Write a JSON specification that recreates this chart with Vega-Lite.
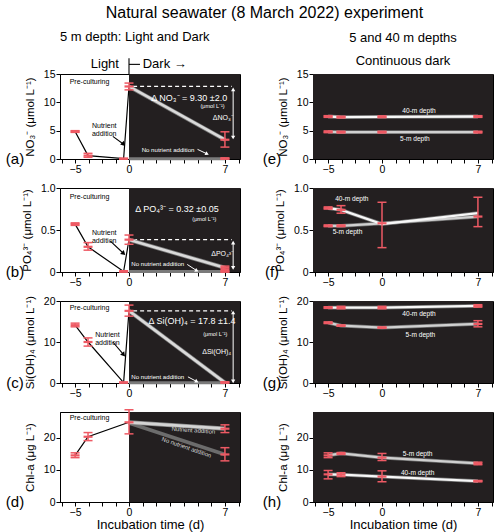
{
"$schema":"https://vega.github.io/schema/vega-lite/v6.json",
"title":{"text":"Natural seawater (8 March 2022) experiment","fontSize":16,"anchor":"middle","offset":9,"dx":15},
"datasets":{
"bg":[
{"p":"a","t":0,"t2":8.1,"v":0,"v2":15},
{"p":"b","t":0,"t2":8.1,"v":0,"v2":1},
{"p":"c","t":0,"t2":8.1,"v":0,"v2":20},
{"p":"d","t":0,"t2":8.1,"v":0,"v2":28},
{"p":"e","t":-6.4,"t2":8.1,"v":0,"v2":15},
{"p":"f","t":-6.4,"t2":8.1,"v":0,"v2":1},
{"p":"g","t":-6.4,"t2":8.1,"v":0,"v2":20},
{"p":"h","t":-6.4,"t2":8.1,"v":0,"v2":28}
],
"pts":[
{"p":"a","s":"pre","t":-5,"v":4.85,"lo":4.7,"hi":5.0},
{"p":"a","s":"pre","t":-3.8,"v":0.6,"lo":0.3,"hi":1.0},
{"p":"a","s":"pre","t":-0.5,"v":0.05,"lo":0,"hi":0.12},
{"p":"a","s":"pre","t":0,"v":12.8},
{"p":"a","s":"nut","t":0,"v":12.8,"lo":12.2,"hi":13.4},
{"p":"a","s":"nut","t":7,"v":3.4,"lo":2.1,"hi":4.8},
{"p":"a","s":"non","t":0,"v":0.05},
{"p":"a","s":"non","t":7,"v":0.05,"lo":0,"hi":0.2},
{"p":"b","s":"pre","t":-5,"v":0.57,"lo":0.555,"hi":0.585},
{"p":"b","s":"pre","t":-3.8,"v":0.3,"lo":0.26,"hi":0.35},
{"p":"b","s":"pre","t":-0.5,"v":0.005,"lo":0,"hi":0.015},
{"p":"b","s":"pre","t":0,"v":0.385},
{"p":"b","s":"nut","t":0,"v":0.385,"lo":0.33,"hi":0.44},
{"p":"b","s":"nut","t":7,"v":0.05,"lo":0.03,"hi":0.07},
{"p":"b","s":"non","t":0,"v":0.005},
{"p":"b","s":"non","t":7,"v":0.005,"lo":0,"hi":0.015},
{"p":"c","s":"pre","t":-5,"v":14.1,"lo":13.7,"hi":14.6},
{"p":"c","s":"pre","t":-3.8,"v":10.0,"lo":9.0,"hi":11.0},
{"p":"c","s":"pre","t":-0.5,"v":0.1,"lo":0,"hi":0.25},
{"p":"c","s":"pre","t":0,"v":17.6},
{"p":"c","s":"nut","t":0,"v":17.6,"lo":16.3,"hi":19.0},
{"p":"c","s":"nut","t":7,"v":0.1,"lo":0,"hi":0.3},
{"p":"c","s":"non","t":0,"v":0.05},
{"p":"c","s":"non","t":7,"v":0.05},
{"p":"d","s":"pre","t":-5,"v":14.5,"lo":13.8,"hi":15.3},
{"p":"d","s":"pre","t":-3.8,"v":20.3,"lo":19.1,"hi":21.6},
{"p":"d","s":"pre","t":0,"v":24.8},
{"p":"d","s":"nut","t":0,"v":24.8,"lo":21.2,"hi":28.7},
{"p":"d","s":"nut","t":7,"v":22.8,"lo":21.6,"hi":24.0},
{"p":"d","s":"non","t":0,"v":24.6},
{"p":"d","s":"non","t":7,"v":14.8,"lo":12.8,"hi":16.9},
{"p":"e","s":"d40","t":-5,"v":7.5,"lo":7.35,"hi":7.65},
{"p":"e","s":"d40","t":-3.8,"v":7.4,"lo":7.25,"hi":7.55},
{"p":"e","s":"d40","t":0,"v":7.45,"lo":7.3,"hi":7.6},
{"p":"e","s":"d40","t":7,"v":7.5,"lo":7.35,"hi":7.65},
{"p":"e","s":"d5","t":-5,"v":4.8,"lo":4.65,"hi":4.95},
{"p":"e","s":"d5","t":-3.8,"v":4.75,"lo":4.6,"hi":4.9},
{"p":"e","s":"d5","t":0,"v":4.75,"lo":4.6,"hi":4.9},
{"p":"e","s":"d5","t":7,"v":4.75,"lo":4.6,"hi":4.9},
{"p":"f","s":"d40","t":-5,"v":0.76,"lo":0.75,"hi":0.775},
{"p":"f","s":"d40","t":-3.8,"v":0.74,"lo":0.7,"hi":0.79},
{"p":"f","s":"d40","t":0,"v":0.57},
{"p":"f","s":"d40","t":7,"v":0.7},
{"p":"f","s":"d5","t":-5,"v":0.55,"lo":0.54,"hi":0.56},
{"p":"f","s":"d5","t":-3.8,"v":0.55,"lo":0.54,"hi":0.56},
{"p":"f","s":"d5","t":0,"v":0.58,"lo":0.29,"hi":0.83},
{"p":"f","s":"d5","t":7,"v":0.66,"lo":0.54,"hi":0.89},
{"p":"g","s":"d40","t":-5,"v":18.4,"lo":18.2,"hi":18.6},
{"p":"g","s":"d40","t":-3.8,"v":18.4,"lo":18.1,"hi":18.7},
{"p":"g","s":"d40","t":0,"v":18.4,"lo":18.1,"hi":18.7},
{"p":"g","s":"d40","t":7,"v":18.8,"lo":18.5,"hi":19.1},
{"p":"g","s":"d5","t":-5,"v":14.7,"lo":14.5,"hi":14.9},
{"p":"g","s":"d5","t":-3.8,"v":14.0,"lo":13.85,"hi":14.15},
{"p":"g","s":"d5","t":0,"v":13.5,"lo":13.35,"hi":13.65},
{"p":"g","s":"d5","t":7,"v":14.4,"lo":13.7,"hi":15.2},
{"p":"h","s":"d5","t":-5,"v":14.5,"lo":13.8,"hi":15.3},
{"p":"h","s":"d5","t":-3.8,"v":15.1,"lo":14.8,"hi":15.4},
{"p":"h","s":"d5","t":0,"v":13.8,"lo":12.9,"hi":15.1},
{"p":"h","s":"d5","t":7,"v":12.0,"lo":11.6,"hi":12.4},
{"p":"h","s":"d40","t":-5,"v":8.6,"lo":7.2,"hi":9.8},
{"p":"h","s":"d40","t":-3.8,"v":8.5,"lo":7.9,"hi":9.1},
{"p":"h","s":"d40","t":0,"v":7.9,"lo":6.3,"hi":9.7},
{"p":"h","s":"d40","t":7,"v":6.5,"lo":6.3,"hi":6.7}
],
"seg":[
{"p":"a","k":"blk","t":-1.5,"v":4.0,"t2":-0.5,"v2":2.6},
{"p":"a","k":"wht","t":5.0,"v":1.7,"t2":5.7,"v2":0.9},
{"p":"a","k":"dash","t":0.3,"v":12.8,"t2":7.5,"v2":12.8},
{"p":"a","k":"dbl","t":7.6,"v":12.3,"t2":7.6,"v2":3.8},
{"p":"a","k":"hdr","t":0,"v":15,"t2":0,"v2":17.8},
{"p":"a","k":"hdr","t":0,"v":16.7,"t2":0.8,"v2":16.7},
{"p":"b","k":"blk","t":-1.75,"v":0.37,"t2":-0.5,"v2":0.22},
{"p":"b","k":"wht","t":4.25,"v":0.09,"t2":4.95,"v2":0.015},
{"p":"b","k":"dash","t":0.3,"v":0.385,"t2":7.5,"v2":0.385},
{"p":"b","k":"dbl","t":7.6,"v":0.35,"t2":7.6,"v2":0.05},
{"p":"c","k":"blk","t":-1.5,"v":10.0,"t2":-0.5,"v2":6.9},
{"p":"c","k":"wht","t":4.3,"v":1.5,"t2":4.95,"v2":0.35},
{"p":"c","k":"dash","t":0.3,"v":17.6,"t2":7.5,"v2":17.6},
{"p":"c","k":"dbl","t":7.6,"v":17.2,"t2":7.6,"v2":0.4}
],
"txt":[
{"p":"a","k":"pre","txt":"Pre-culturing","t":-5.5,"v":13.6},
{"p":"a","k":"nut","txt":"Nutrient\naddition","t":-2.3,"v":5.8},
{"p":"a","k":"delta","txt":"Δ NO₃⁻  = 9.30 ±2.0","t":4.4,"v":10.8},
{"p":"a","k":"unit","txt":"(μmol L⁻¹)","t":6.1,"v":9.3},
{"p":"a","k":"dlab","txt":"ΔNO₃⁻","t":6.85,"v":7.2},
{"p":"a","k":"nonut","txt":"No nutrient addition","t":2.85,"v":1.6},
{"p":"a","k":"lab","txt":"(a)","t":-10.57,"v":0},
{"p":"a","k":"hdrL","txt":"Light","t":-0.93,"v":16.7},
{"p":"a","k":"hdrR","txt":"Dark →","t":1.0,"v":16.7},
{"p":"b","k":"pre","txt":"Pre-culturing","t":-5.5,"v":0.89},
{"p":"b","k":"nut","txt":"Nutrient\naddition","t":-2.3,"v":0.46},
{"p":"b","k":"delta","txt":"Δ PO₄³⁻  = 0.32 ±0.05","t":3.5,"v":0.75},
{"p":"b","k":"unit","txt":"(μmol L⁻¹)","t":5.5,"v":0.63},
{"p":"b","k":"dlab","txt":"ΔPO₄³⁻","t":6.8,"v":0.21},
{"p":"b","k":"nonut","txt":"No nutrient addition","t":2.1,"v":0.095},
{"p":"b","k":"lab","txt":"(b)","t":-10.57,"v":0},
{"p":"c","k":"pre","txt":"Pre-culturing","t":-5.5,"v":18.3},
{"p":"c","k":"nut","txt":"Nutrient\naddition","t":-2.0,"v":11.7},
{"p":"c","k":"delta","txt":"Δ Si(OH)₄ = 17.8 ±1.4","t":4.6,"v":15.1},
{"p":"c","k":"unit","txt":"(μmol L⁻¹)","t":6.3,"v":11.9},
{"p":"c","k":"dlab","txt":"ΔSi(OH)₄","t":6.4,"v":7.6},
{"p":"c","k":"nonut","txt":"No nutrient addition","t":2.1,"v":1.5},
{"p":"c","k":"lab","txt":"(c)","t":-10.57,"v":0},
{"p":"d","k":"pre","txt":"Pre-culturing","t":-5.5,"v":26},
{"p":"d","k":"nutd","txt":"Nutrient addition","t":4.7,"v":22.3},
{"p":"d","k":"nonutd","txt":"No nutrient addition","t":4.2,"v":17.0},
{"p":"d","k":"lab","txt":"(d)","t":-10.57,"v":0},
{"p":"e","k":"depth","txt":"40-m depth","t":2.7,"v":8.5},
{"p":"e","k":"depth","txt":"5-m depth","t":2.4,"v":3.5},
{"p":"e","k":"lab","txt":"(e)","t":-10.2,"v":0},
{"p":"f","k":"depth","txt":"40-m depth","t":-2.8,"v":0.87},
{"p":"f","k":"depth","txt":"5-m depth","t":-3.2,"v":0.48},
{"p":"f","k":"lab","txt":"(f)","t":-10.2,"v":0},
{"p":"g","k":"depth","txt":"40-m depth","t":2.7,"v":16.8},
{"p":"g","k":"depth","txt":"5-m depth","t":2.8,"v":11.7},
{"p":"g","k":"lab","txt":"(g)","t":-10.2,"v":0},
{"p":"h","k":"depth","txt":"5-m depth","t":2.6,"v":14.8},
{"p":"h","k":"depth","txt":"40-m depth","t":2.6,"v":9.1},
{"p":"h","k":"lab","txt":"(h)","t":-10.2,"v":0}
]
},
"columns":2,
"spacing":{"row":29,"column":73},
"bounds":"flush",
"align":"each",
"concat":[
{"width":180,"height":85,
"title":{"text":"5 m depth: Light and Dark","anchor":"start","frame":"group","fontSize":13,"offset":14},
"encoding":{"x":{"field":"t","type":"quantitative","scale":{"domain":[-6.4,0,8.1],"range":[0,69,180],"nice":false,"zero":false},"axis":{"values":[-6.25,-5,-3.75,-2.5,-1.25,0,1,2,3,4,5,6,7,8],"labelExpr":"indexof([-5,0,7],datum.value)>=0?datum.label:''","labelOverlap":false,"labelFlush":false,"title":null}},
"y":{"field":"v","type":"quantitative","scale":{"domain":[0,15],"nice":false,"zero":false},"axis":{"title":"NO₃⁻ (μmol L⁻¹)","values":[0,5,10,15]}}},
"layer":[
{"data":{"name":"bg"},"transform":[{"filter":"datum.p=='a'"}],"mark":{"type":"rect","fill":"#231f20","strokeWidth":0},"encoding":{"x2":{"field":"t2"},"y2":{"field":"v2"}}},
{"data":{"name":"seg"},"transform":[{"filter":"datum.p=='a'&&datum.k=='dash'"}],"mark":{"type":"rule","color":"#ffffff","strokeDash":[4,3],"strokeWidth":1.3},"encoding":{"x2":{"field":"t2"},"y2":{"field":"v2"}}},
{"data":{"name":"pts"},"transform":[{"filter":"datum.p=='a'&&datum.s=='pre'"}],"mark":{"type":"line","color":"#000000","strokeWidth":1.2},"encoding":{}},
{"data":{"name":"pts"},"transform":[{"filter":"datum.p=='a'&&datum.s=='non'"}],"mark":{"type":"line","color":"#7a7a7a","strokeWidth":3},"encoding":{}},
{"data":{"name":"pts"},"transform":[{"filter":"datum.p=='a'&&datum.s=='nut'"}],"mark":{"type":"line","color":"#777777","strokeWidth":4.2},"encoding":{}},
{"data":{"name":"pts"},"transform":[{"filter":"datum.p=='a'&&datum.s=='nut'"}],"mark":{"type":"line","color":"#dadada","strokeWidth":2.6},"encoding":{}},
{"data":{"name":"pts"},"transform":[{"filter":"datum.p=='a'&&isValid(datum.lo)"}],"mark":{"type":"rule","color":"#ee5a64","strokeWidth":1.5},"encoding":{"y":{"field":"lo","type":"quantitative"},"y2":{"field":"hi"}}},
{"data":{"name":"pts"},"transform":[{"filter":"datum.p=='a'&&isValid(datum.lo)"}],"mark":{"type":"tick","orient":"horizontal","color":"#ee5a64","size":9,"thickness":1.5,"opacity":1},"encoding":{"y":{"field":"lo","type":"quantitative"}}},
{"data":{"name":"pts"},"transform":[{"filter":"datum.p=='a'&&isValid(datum.lo)"}],"mark":{"type":"tick","orient":"horizontal","color":"#ee5a64","size":9,"thickness":1.5,"opacity":1},"encoding":{"y":{"field":"hi","type":"quantitative"}}},
{"data":{"name":"pts"},"transform":[{"filter":"datum.p=='a'&&isValid(datum.lo)"}],"mark":{"type":"tick","orient":"horizontal","color":"#ee5a64","size":9,"thickness":2.2,"opacity":1},"encoding":{}},
{"data":{"name":"seg"},"transform":[{"filter":"datum.p=='a'&&(datum.k=='blk'||datum.k=='hdr')"}],"mark":{"type":"rule","color":"#000000","strokeWidth":1.1},"encoding":{"x2":{"field":"t2"},"y2":{"field":"v2"}}},
{"data":{"name":"seg"},"transform":[{"filter":"datum.p=='a'&&(datum.k=='wht'||datum.k=='dbl')"}],"mark":{"type":"rule","color":"#ffffff","strokeWidth":1},"encoding":{"x2":{"field":"t2"},"y2":{"field":"v2"}}},
{"data":{"name":"seg"},"transform":[{"filter":"datum.p=='a'&&datum.k=='blk'"}],"mark":{"type":"point","shape":"triangle-up","angle":135,"filled":true,"color":"#000000","size":28,"opacity":1},"encoding":{"x":{"field":"t2","type":"quantitative"},"y":{"field":"v2","type":"quantitative"}}},
{"data":{"name":"seg"},"transform":[{"filter":"datum.p=='a'&&datum.k=='wht'"}],"mark":{"type":"point","shape":"triangle-up","angle":117,"filled":true,"color":"#ffffff","size":18,"opacity":1},"encoding":{"x":{"field":"t2","type":"quantitative"},"y":{"field":"v2","type":"quantitative"}}},
{"data":{"name":"seg"},"transform":[{"filter":"datum.p=='a'&&datum.k=='dbl'"}],"mark":{"type":"point","shape":"triangle-up","angle":0,"filled":true,"color":"#ffffff","size":18,"opacity":1},"encoding":{}},
{"data":{"name":"seg"},"transform":[{"filter":"datum.p=='a'&&datum.k=='dbl'"}],"mark":{"type":"point","shape":"triangle-up","angle":180,"filled":true,"color":"#ffffff","size":18,"opacity":1},"encoding":{"x":{"field":"t2","type":"quantitative"},"y":{"field":"v2","type":"quantitative"}}},
{"data":{"name":"txt"},"transform":[{"filter":"datum.p=='a'&&datum.k=='pre'"}],"mark":{"type":"text","align":"left","baseline":"middle","fontSize":7,"color":"#000000"},"encoding":{"text":{"field":"txt"}}},
{"data":{"name":"txt"},"transform":[{"filter":"datum.p=='a'&&datum.k=='nut'"}],"mark":{"type":"text","align":"center","baseline":"middle","fontSize":7,"color":"#000000","lineBreak":"\n","lineHeight":8}, "encoding":{"text":{"field":"txt"}}},
{"data":{"name":"txt"},"transform":[{"filter":"datum.p=='a'&&datum.k=='delta'"}],"mark":{"type":"text","align":"center","baseline":"middle","fontSize":9,"color":"#ffffff"},"encoding":{"text":{"field":"txt"}}},
{"data":{"name":"txt"},"transform":[{"filter":"datum.p=='a'&&datum.k=='unit'"}],"mark":{"type":"text","align":"center","baseline":"middle","fontSize":5.5,"color":"#ffffff"},"encoding":{"text":{"field":"txt"}}},
{"data":{"name":"txt"},"transform":[{"filter":"datum.p=='a'&&datum.k=='dlab'"}],"mark":{"type":"text","align":"center","baseline":"middle","fontSize":7,"color":"#ffffff"},"encoding":{"text":{"field":"txt"}}},
{"data":{"name":"txt"},"transform":[{"filter":"datum.p=='a'&&datum.k=='nonut'"}],"mark":{"type":"text","align":"center","baseline":"middle","fontSize":6.1,"color":"#ffffff"},"encoding":{"text":{"field":"txt"}}},
{"data":{"name":"txt"},"transform":[{"filter":"datum.p=='a'&&datum.k=='lab'"}],"mark":{"type":"text","align":"center","baseline":"middle","fontSize":15,"color":"#000000"},"encoding":{"text":{"field":"txt"}}},
{"data":{"name":"txt"},"transform":[{"filter":"datum.p=='a'&&datum.k=='hdrL'"}],"mark":{"type":"text","align":"right","baseline":"middle","fontSize":13,"color":"#000000"},"encoding":{"text":{"field":"txt"}}},
{"data":{"name":"txt"},"transform":[{"filter":"datum.p=='a'&&datum.k=='hdrR'"}],"mark":{"type":"text","align":"left","baseline":"middle","fontSize":13,"color":"#000000"},"encoding":{"text":{"field":"txt"}}}
]},
{"width":180,"height":85,
"title":{"text":"5 and 40 m depths","subtitle":"Continuous dark","anchor":"middle","frame":"group","fontSize":13,"subtitleFontSize":13,"subtitlePadding":10,"offset":1},
"encoding":{"x":{"field":"t","type":"quantitative","scale":{"domain":[-6.4,0,8.1],"range":[0,69,180],"nice":false,"zero":false},"axis":{"values":[-6.25,-5,-3.75,-2.5,-1.25,0,1,2,3,4,5,6,7,8],"labelExpr":"indexof([-5,0,7],datum.value)>=0?datum.label:''","labelOverlap":false,"labelFlush":false,"title":null}},
"y":{"field":"v","type":"quantitative","scale":{"domain":[0,15],"nice":false,"zero":false},"axis":{"title":"NO₃⁻ (μmol L⁻¹)","values":[0,5,10,15]}}},
"layer":[
{"data":{"name":"bg"},"transform":[{"filter":"datum.p=='e'"}],"mark":{"type":"rect","fill":"#231f20","strokeWidth":0},"encoding":{"x2":{"field":"t2"},"y2":{"field":"v2"}}},
{"data":{"name":"pts"},"transform":[{"filter":"datum.p=='e'"}],"mark":{"type":"line","color":"#6f6f6f","strokeWidth":3.8},"encoding":{"detail":{"field":"s"}}},
{"data":{"name":"pts"},"transform":[{"filter":"datum.p=='e'&&datum.s=='d5'"}],"mark":{"type":"line","color":"#d0d0d0","strokeWidth":2.3},"encoding":{}},
{"data":{"name":"pts"},"transform":[{"filter":"datum.p=='e'&&datum.s=='d40'"}],"mark":{"type":"line","color":"#f7f7f7","strokeWidth":2.3},"encoding":{}},
{"data":{"name":"pts"},"transform":[{"filter":"datum.p=='e'&&isValid(datum.lo)"}],"mark":{"type":"rule","color":"#ee5a64","strokeWidth":1.5},"encoding":{"y":{"field":"lo","type":"quantitative"},"y2":{"field":"hi"}}},
{"data":{"name":"pts"},"transform":[{"filter":"datum.p=='e'&&isValid(datum.lo)"}],"mark":{"type":"tick","orient":"horizontal","color":"#ee5a64","size":9,"thickness":1.5,"opacity":1},"encoding":{"y":{"field":"lo","type":"quantitative"}}},
{"data":{"name":"pts"},"transform":[{"filter":"datum.p=='e'&&isValid(datum.lo)"}],"mark":{"type":"tick","orient":"horizontal","color":"#ee5a64","size":9,"thickness":1.5,"opacity":1},"encoding":{"y":{"field":"hi","type":"quantitative"}}},
{"data":{"name":"pts"},"transform":[{"filter":"datum.p=='e'&&isValid(datum.lo)"}],"mark":{"type":"tick","orient":"horizontal","color":"#ee5a64","size":9,"thickness":2.2,"opacity":1},"encoding":{}},
{"data":{"name":"txt"},"transform":[{"filter":"datum.p=='e'&&datum.k=='depth'"}],"mark":{"type":"text","align":"center","baseline":"middle","fontSize":6.6,"color":"#ffffff"},"encoding":{"text":{"field":"txt"}}},
{"data":{"name":"txt"},"transform":[{"filter":"datum.p=='e'&&datum.k=='lab'"}],"mark":{"type":"text","align":"center","baseline":"middle","fontSize":15,"color":"#000000"},"encoding":{"text":{"field":"txt"}}}
]},
{"width":180,"height":84,
"encoding":{"x":{"field":"t","type":"quantitative","scale":{"domain":[-6.4,0,8.1],"range":[0,69,180],"nice":false,"zero":false},"axis":{"values":[-6.25,-5,-3.75,-2.5,-1.25,0,1,2,3,4,5,6,7,8],"labelExpr":"indexof([-5,0,7],datum.value)>=0?datum.label:''","labelOverlap":false,"labelFlush":false,"title":null}},
"y":{"field":"v","type":"quantitative","scale":{"domain":[0,1],"nice":false,"zero":false},"axis":{"title":"PO₄³⁻ (μmol L⁻¹)","values":[0,0.5,1],"labelExpr":"datum.value==0?'0':format(datum.value,'.1f')"}}},
"layer":[
{"data":{"name":"bg"},"transform":[{"filter":"datum.p=='b'"}],"mark":{"type":"rect","fill":"#231f20","strokeWidth":0},"encoding":{"x2":{"field":"t2"},"y2":{"field":"v2"}}},
{"data":{"name":"seg"},"transform":[{"filter":"datum.p=='b'&&datum.k=='dash'"}],"mark":{"type":"rule","color":"#ffffff","strokeDash":[4,3],"strokeWidth":1.3},"encoding":{"x2":{"field":"t2"},"y2":{"field":"v2"}}},
{"data":{"name":"pts"},"transform":[{"filter":"datum.p=='b'&&datum.s=='pre'"}],"mark":{"type":"line","color":"#000000","strokeWidth":1.2},"encoding":{}},
{"data":{"name":"pts"},"transform":[{"filter":"datum.p=='b'&&datum.s=='non'"}],"mark":{"type":"line","color":"#7a7a7a","strokeWidth":3},"encoding":{}},
{"data":{"name":"pts"},"transform":[{"filter":"datum.p=='b'&&datum.s=='nut'"}],"mark":{"type":"line","color":"#777777","strokeWidth":4.2},"encoding":{}},
{"data":{"name":"pts"},"transform":[{"filter":"datum.p=='b'&&datum.s=='nut'"}],"mark":{"type":"line","color":"#dadada","strokeWidth":2.6},"encoding":{}},
{"data":{"name":"pts"},"transform":[{"filter":"datum.p=='b'&&isValid(datum.lo)"}],"mark":{"type":"rule","color":"#ee5a64","strokeWidth":1.5},"encoding":{"y":{"field":"lo","type":"quantitative"},"y2":{"field":"hi"}}},
{"data":{"name":"pts"},"transform":[{"filter":"datum.p=='b'&&isValid(datum.lo)"}],"mark":{"type":"tick","orient":"horizontal","color":"#ee5a64","size":9,"thickness":1.5,"opacity":1},"encoding":{"y":{"field":"lo","type":"quantitative"}}},
{"data":{"name":"pts"},"transform":[{"filter":"datum.p=='b'&&isValid(datum.lo)"}],"mark":{"type":"tick","orient":"horizontal","color":"#ee5a64","size":9,"thickness":1.5,"opacity":1},"encoding":{"y":{"field":"hi","type":"quantitative"}}},
{"data":{"name":"pts"},"transform":[{"filter":"datum.p=='b'&&isValid(datum.lo)"}],"mark":{"type":"tick","orient":"horizontal","color":"#ee5a64","size":9,"thickness":2.2,"opacity":1},"encoding":{}},
{"data":{"name":"seg"},"transform":[{"filter":"datum.p=='b'&&datum.k=='blk'"}],"mark":{"type":"rule","color":"#000000","strokeWidth":1.1},"encoding":{"x2":{"field":"t2"},"y2":{"field":"v2"}}},
{"data":{"name":"seg"},"transform":[{"filter":"datum.p=='b'&&(datum.k=='wht'||datum.k=='dbl')"}],"mark":{"type":"rule","color":"#ffffff","strokeWidth":1},"encoding":{"x2":{"field":"t2"},"y2":{"field":"v2"}}},
{"data":{"name":"seg"},"transform":[{"filter":"datum.p=='b'&&datum.k=='blk'"}],"mark":{"type":"point","shape":"triangle-up","angle":133,"filled":true,"color":"#000000","size":28,"opacity":1},"encoding":{"x":{"field":"t2","type":"quantitative"},"y":{"field":"v2","type":"quantitative"}}},
{"data":{"name":"seg"},"transform":[{"filter":"datum.p=='b'&&datum.k=='wht'"}],"mark":{"type":"point","shape":"triangle-up","angle":117,"filled":true,"color":"#ffffff","size":18,"opacity":1},"encoding":{"x":{"field":"t2","type":"quantitative"},"y":{"field":"v2","type":"quantitative"}}},
{"data":{"name":"seg"},"transform":[{"filter":"datum.p=='b'&&datum.k=='dbl'"}],"mark":{"type":"point","shape":"triangle-up","angle":0,"filled":true,"color":"#ffffff","size":18,"opacity":1},"encoding":{}},
{"data":{"name":"seg"},"transform":[{"filter":"datum.p=='b'&&datum.k=='dbl'"}],"mark":{"type":"point","shape":"triangle-up","angle":180,"filled":true,"color":"#ffffff","size":18,"opacity":1},"encoding":{"x":{"field":"t2","type":"quantitative"},"y":{"field":"v2","type":"quantitative"}}},
{"data":{"name":"txt"},"transform":[{"filter":"datum.p=='b'&&datum.k=='pre'"}],"mark":{"type":"text","align":"left","baseline":"middle","fontSize":7,"color":"#000000"},"encoding":{"text":{"field":"txt"}}},
{"data":{"name":"txt"},"transform":[{"filter":"datum.p=='b'&&datum.k=='nut'"}],"mark":{"type":"text","align":"center","baseline":"middle","fontSize":7,"color":"#000000","lineBreak":"\n","lineHeight":8},"encoding":{"text":{"field":"txt"}}},
{"data":{"name":"txt"},"transform":[{"filter":"datum.p=='b'&&datum.k=='delta'"}],"mark":{"type":"text","align":"center","baseline":"middle","fontSize":9,"color":"#ffffff"},"encoding":{"text":{"field":"txt"}}},
{"data":{"name":"txt"},"transform":[{"filter":"datum.p=='b'&&datum.k=='unit'"}],"mark":{"type":"text","align":"center","baseline":"middle","fontSize":5.5,"color":"#ffffff"},"encoding":{"text":{"field":"txt"}}},
{"data":{"name":"txt"},"transform":[{"filter":"datum.p=='b'&&datum.k=='dlab'"}],"mark":{"type":"text","align":"center","baseline":"middle","fontSize":7,"color":"#ffffff"},"encoding":{"text":{"field":"txt"}}},
{"data":{"name":"txt"},"transform":[{"filter":"datum.p=='b'&&datum.k=='nonut'"}],"mark":{"type":"text","align":"center","baseline":"middle","fontSize":6.1,"color":"#ffffff"},"encoding":{"text":{"field":"txt"}}},
{"data":{"name":"txt"},"transform":[{"filter":"datum.p=='b'&&datum.k=='lab'"}],"mark":{"type":"text","align":"center","baseline":"middle","fontSize":15,"color":"#000000"},"encoding":{"text":{"field":"txt"}}}
]},
{"width":180,"height":84,
"encoding":{"x":{"field":"t","type":"quantitative","scale":{"domain":[-6.4,0,8.1],"range":[0,69,180],"nice":false,"zero":false},"axis":{"values":[-6.25,-5,-3.75,-2.5,-1.25,0,1,2,3,4,5,6,7,8],"labelExpr":"indexof([-5,0,7],datum.value)>=0?datum.label:''","labelOverlap":false,"labelFlush":false,"title":null}},
"y":{"field":"v","type":"quantitative","scale":{"domain":[0,1],"nice":false,"zero":false},"axis":{"title":"PO₄³⁻ (μmol L⁻¹)","values":[0,0.5,1],"labelExpr":"datum.value==0?'0':format(datum.value,'.1f')"}}},
"layer":[
{"data":{"name":"bg"},"transform":[{"filter":"datum.p=='f'"}],"mark":{"type":"rect","fill":"#231f20","strokeWidth":0},"encoding":{"x2":{"field":"t2"},"y2":{"field":"v2"}}},
{"data":{"name":"pts"},"transform":[{"filter":"datum.p=='f'"}],"mark":{"type":"line","color":"#6f6f6f","strokeWidth":3.8},"encoding":{"detail":{"field":"s"}}},
{"data":{"name":"pts"},"transform":[{"filter":"datum.p=='f'&&datum.s=='d5'"}],"mark":{"type":"line","color":"#d0d0d0","strokeWidth":2.3},"encoding":{}},
{"data":{"name":"pts"},"transform":[{"filter":"datum.p=='f'&&datum.s=='d40'"}],"mark":{"type":"line","color":"#f7f7f7","strokeWidth":2.3},"encoding":{}},
{"data":{"name":"pts"},"transform":[{"filter":"datum.p=='f'&&isValid(datum.lo)"}],"mark":{"type":"rule","color":"#ee5a64","strokeWidth":1.5},"encoding":{"y":{"field":"lo","type":"quantitative"},"y2":{"field":"hi"}}},
{"data":{"name":"pts"},"transform":[{"filter":"datum.p=='f'&&isValid(datum.lo)"}],"mark":{"type":"tick","orient":"horizontal","color":"#ee5a64","size":9,"thickness":1.5,"opacity":1},"encoding":{"y":{"field":"lo","type":"quantitative"}}},
{"data":{"name":"pts"},"transform":[{"filter":"datum.p=='f'&&isValid(datum.lo)"}],"mark":{"type":"tick","orient":"horizontal","color":"#ee5a64","size":9,"thickness":1.5,"opacity":1},"encoding":{"y":{"field":"hi","type":"quantitative"}}},
{"data":{"name":"pts"},"transform":[{"filter":"datum.p=='f'&&isValid(datum.lo)"}],"mark":{"type":"tick","orient":"horizontal","color":"#ee5a64","size":9,"thickness":2.2,"opacity":1},"encoding":{}},
{"data":{"name":"txt"},"transform":[{"filter":"datum.p=='f'&&datum.k=='depth'"}],"mark":{"type":"text","align":"center","baseline":"middle","fontSize":6.6,"color":"#ffffff"},"encoding":{"text":{"field":"txt"}}},
{"data":{"name":"txt"},"transform":[{"filter":"datum.p=='f'&&datum.k=='lab'"}],"mark":{"type":"text","align":"center","baseline":"middle","fontSize":15,"color":"#000000"},"encoding":{"text":{"field":"txt"}}}
]},
{"width":180,"height":82,
"encoding":{"x":{"field":"t","type":"quantitative","scale":{"domain":[-6.4,0,8.1],"range":[0,69,180],"nice":false,"zero":false},"axis":{"values":[-6.25,-5,-3.75,-2.5,-1.25,0,1,2,3,4,5,6,7,8],"labelExpr":"indexof([-5,0,7],datum.value)>=0?datum.label:''","labelOverlap":false,"labelFlush":false,"title":null}},
"y":{"field":"v","type":"quantitative","scale":{"domain":[0,20],"nice":false,"zero":false},"axis":{"title":"Si(OH)₄ (μmol L⁻¹)","values":[0,10,20]}}},
"layer":[
{"data":{"name":"bg"},"transform":[{"filter":"datum.p=='c'"}],"mark":{"type":"rect","fill":"#231f20","strokeWidth":0},"encoding":{"x2":{"field":"t2"},"y2":{"field":"v2"}}},
{"data":{"name":"seg"},"transform":[{"filter":"datum.p=='c'&&datum.k=='dash'"}],"mark":{"type":"rule","color":"#ffffff","strokeDash":[4,3],"strokeWidth":1.3},"encoding":{"x2":{"field":"t2"},"y2":{"field":"v2"}}},
{"data":{"name":"pts"},"transform":[{"filter":"datum.p=='c'&&datum.s=='pre'"}],"mark":{"type":"line","color":"#000000","strokeWidth":1.2},"encoding":{}},
{"data":{"name":"pts"},"transform":[{"filter":"datum.p=='c'&&datum.s=='non'"}],"mark":{"type":"line","color":"#7a7a7a","strokeWidth":3},"encoding":{}},
{"data":{"name":"pts"},"transform":[{"filter":"datum.p=='c'&&datum.s=='nut'"}],"mark":{"type":"line","color":"#777777","strokeWidth":4.2},"encoding":{}},
{"data":{"name":"pts"},"transform":[{"filter":"datum.p=='c'&&datum.s=='nut'"}],"mark":{"type":"line","color":"#dadada","strokeWidth":2.6},"encoding":{}},
{"data":{"name":"pts"},"transform":[{"filter":"datum.p=='c'&&isValid(datum.lo)"}],"mark":{"type":"rule","color":"#ee5a64","strokeWidth":1.5},"encoding":{"y":{"field":"lo","type":"quantitative"},"y2":{"field":"hi"}}},
{"data":{"name":"pts"},"transform":[{"filter":"datum.p=='c'&&isValid(datum.lo)"}],"mark":{"type":"tick","orient":"horizontal","color":"#ee5a64","size":9,"thickness":1.5,"opacity":1},"encoding":{"y":{"field":"lo","type":"quantitative"}}},
{"data":{"name":"pts"},"transform":[{"filter":"datum.p=='c'&&isValid(datum.lo)"}],"mark":{"type":"tick","orient":"horizontal","color":"#ee5a64","size":9,"thickness":1.5,"opacity":1},"encoding":{"y":{"field":"hi","type":"quantitative"}}},
{"data":{"name":"pts"},"transform":[{"filter":"datum.p=='c'&&isValid(datum.lo)"}],"mark":{"type":"tick","orient":"horizontal","color":"#ee5a64","size":9,"thickness":2.2,"opacity":1},"encoding":{}},
{"data":{"name":"seg"},"transform":[{"filter":"datum.p=='c'&&datum.k=='blk'"}],"mark":{"type":"rule","color":"#000000","strokeWidth":1.1},"encoding":{"x2":{"field":"t2"},"y2":{"field":"v2"}}},
{"data":{"name":"seg"},"transform":[{"filter":"datum.p=='c'&&(datum.k=='wht'||datum.k=='dbl')"}],"mark":{"type":"rule","color":"#ffffff","strokeWidth":1},"encoding":{"x2":{"field":"t2"},"y2":{"field":"v2"}}},
{"data":{"name":"seg"},"transform":[{"filter":"datum.p=='c'&&datum.k=='blk'"}],"mark":{"type":"point","shape":"triangle-up","angle":140,"filled":true,"color":"#000000","size":28,"opacity":1},"encoding":{"x":{"field":"t2","type":"quantitative"},"y":{"field":"v2","type":"quantitative"}}},
{"data":{"name":"seg"},"transform":[{"filter":"datum.p=='c'&&datum.k=='wht'"}],"mark":{"type":"point","shape":"triangle-up","angle":117,"filled":true,"color":"#ffffff","size":18,"opacity":1},"encoding":{"x":{"field":"t2","type":"quantitative"},"y":{"field":"v2","type":"quantitative"}}},
{"data":{"name":"seg"},"transform":[{"filter":"datum.p=='c'&&datum.k=='dbl'"}],"mark":{"type":"point","shape":"triangle-up","angle":0,"filled":true,"color":"#ffffff","size":18,"opacity":1},"encoding":{}},
{"data":{"name":"seg"},"transform":[{"filter":"datum.p=='c'&&datum.k=='dbl'"}],"mark":{"type":"point","shape":"triangle-up","angle":180,"filled":true,"color":"#ffffff","size":18,"opacity":1},"encoding":{"x":{"field":"t2","type":"quantitative"},"y":{"field":"v2","type":"quantitative"}}},
{"data":{"name":"txt"},"transform":[{"filter":"datum.p=='c'&&datum.k=='pre'"}],"mark":{"type":"text","align":"left","baseline":"middle","fontSize":7,"color":"#000000"},"encoding":{"text":{"field":"txt"}}},
{"data":{"name":"txt"},"transform":[{"filter":"datum.p=='c'&&datum.k=='nut'"}],"mark":{"type":"text","align":"center","baseline":"middle","fontSize":7,"color":"#000000","lineBreak":"\n","lineHeight":8},"encoding":{"text":{"field":"txt"}}},
{"data":{"name":"txt"},"transform":[{"filter":"datum.p=='c'&&datum.k=='delta'"}],"mark":{"type":"text","align":"center","baseline":"middle","fontSize":9,"color":"#ffffff"},"encoding":{"text":{"field":"txt"}}},
{"data":{"name":"txt"},"transform":[{"filter":"datum.p=='c'&&datum.k=='unit'"}],"mark":{"type":"text","align":"center","baseline":"middle","fontSize":5.5,"color":"#ffffff"},"encoding":{"text":{"field":"txt"}}},
{"data":{"name":"txt"},"transform":[{"filter":"datum.p=='c'&&datum.k=='dlab'"}],"mark":{"type":"text","align":"center","baseline":"middle","fontSize":7,"color":"#ffffff"},"encoding":{"text":{"field":"txt"}}},
{"data":{"name":"txt"},"transform":[{"filter":"datum.p=='c'&&datum.k=='nonut'"}],"mark":{"type":"text","align":"center","baseline":"middle","fontSize":6.1,"color":"#ffffff"},"encoding":{"text":{"field":"txt"}}},
{"data":{"name":"txt"},"transform":[{"filter":"datum.p=='c'&&datum.k=='lab'"}],"mark":{"type":"text","align":"center","baseline":"middle","fontSize":15,"color":"#000000"},"encoding":{"text":{"field":"txt"}}}
]},
{"width":180,"height":82,
"encoding":{"x":{"field":"t","type":"quantitative","scale":{"domain":[-6.4,0,8.1],"range":[0,69,180],"nice":false,"zero":false},"axis":{"values":[-6.25,-5,-3.75,-2.5,-1.25,0,1,2,3,4,5,6,7,8],"labelExpr":"indexof([-5,0,7],datum.value)>=0?datum.label:''","labelOverlap":false,"labelFlush":false,"title":null}},
"y":{"field":"v","type":"quantitative","scale":{"domain":[0,20],"nice":false,"zero":false},"axis":{"title":"Si(OH)₄ (μmol L⁻¹)","values":[0,10,20]}}},
"layer":[
{"data":{"name":"bg"},"transform":[{"filter":"datum.p=='g'"}],"mark":{"type":"rect","fill":"#231f20","strokeWidth":0},"encoding":{"x2":{"field":"t2"},"y2":{"field":"v2"}}},
{"data":{"name":"pts"},"transform":[{"filter":"datum.p=='g'"}],"mark":{"type":"line","color":"#6f6f6f","strokeWidth":3.8},"encoding":{"detail":{"field":"s"}}},
{"data":{"name":"pts"},"transform":[{"filter":"datum.p=='g'&&datum.s=='d5'"}],"mark":{"type":"line","color":"#d0d0d0","strokeWidth":2.3},"encoding":{}},
{"data":{"name":"pts"},"transform":[{"filter":"datum.p=='g'&&datum.s=='d40'"}],"mark":{"type":"line","color":"#f7f7f7","strokeWidth":2.3},"encoding":{}},
{"data":{"name":"pts"},"transform":[{"filter":"datum.p=='g'&&isValid(datum.lo)"}],"mark":{"type":"rule","color":"#ee5a64","strokeWidth":1.5},"encoding":{"y":{"field":"lo","type":"quantitative"},"y2":{"field":"hi"}}},
{"data":{"name":"pts"},"transform":[{"filter":"datum.p=='g'&&isValid(datum.lo)"}],"mark":{"type":"tick","orient":"horizontal","color":"#ee5a64","size":9,"thickness":1.5,"opacity":1},"encoding":{"y":{"field":"lo","type":"quantitative"}}},
{"data":{"name":"pts"},"transform":[{"filter":"datum.p=='g'&&isValid(datum.lo)"}],"mark":{"type":"tick","orient":"horizontal","color":"#ee5a64","size":9,"thickness":1.5,"opacity":1},"encoding":{"y":{"field":"hi","type":"quantitative"}}},
{"data":{"name":"pts"},"transform":[{"filter":"datum.p=='g'&&isValid(datum.lo)"}],"mark":{"type":"tick","orient":"horizontal","color":"#ee5a64","size":9,"thickness":2.2,"opacity":1},"encoding":{}},
{"data":{"name":"txt"},"transform":[{"filter":"datum.p=='g'&&datum.k=='depth'"}],"mark":{"type":"text","align":"center","baseline":"middle","fontSize":6.6,"color":"#ffffff"},"encoding":{"text":{"field":"txt"}}},
{"data":{"name":"txt"},"transform":[{"filter":"datum.p=='g'&&datum.k=='lab'"}],"mark":{"type":"text","align":"center","baseline":"middle","fontSize":15,"color":"#000000"},"encoding":{"text":{"field":"txt"}}}
]},
{"width":180,"height":90,
"encoding":{"x":{"field":"t","type":"quantitative","scale":{"domain":[-6.4,0,8.1],"range":[0,69,180],"nice":false,"zero":false},"axis":{"values":[-6.25,-5,-3.75,-2.5,-1.25,0,1,2,3,4,5,6,7,8],"labelExpr":"indexof([-5,0,7],datum.value)>=0?datum.label:''","labelOverlap":false,"labelFlush":false,"title":"Incubation time (d)","titleFontSize":13,"titlePadding":1}},
"y":{"field":"v","type":"quantitative","scale":{"domain":[0,28],"nice":false,"zero":false},"axis":{"title":"Chl-a (μg L⁻¹)","values":[0,10,20]}}},
"layer":[
{"data":{"name":"bg"},"transform":[{"filter":"datum.p=='d'"}],"mark":{"type":"rect","fill":"#231f20","strokeWidth":0},"encoding":{"x2":{"field":"t2"},"y2":{"field":"v2"}}},
{"data":{"name":"pts"},"transform":[{"filter":"datum.p=='d'&&datum.s=='pre'"}],"mark":{"type":"line","color":"#000000","strokeWidth":1.2},"encoding":{}},
{"data":{"name":"pts"},"transform":[{"filter":"datum.p=='d'&&datum.s=='non'"}],"mark":{"type":"line","color":"#6c6c6c","strokeWidth":3.6},"encoding":{}},
{"data":{"name":"pts"},"transform":[{"filter":"datum.p=='d'&&datum.s=='nut'"}],"mark":{"type":"line","color":"#8a8a8a","strokeWidth":4.2},"encoding":{}},
{"data":{"name":"pts"},"transform":[{"filter":"datum.p=='d'&&datum.s=='nut'"}],"mark":{"type":"line","color":"#d4d4d4","strokeWidth":2.8},"encoding":{}},
{"data":{"name":"pts"},"transform":[{"filter":"datum.p=='d'&&isValid(datum.lo)"}],"mark":{"type":"rule","color":"#ee5a64","strokeWidth":1.5},"encoding":{"y":{"field":"lo","type":"quantitative"},"y2":{"field":"hi"}}},
{"data":{"name":"pts"},"transform":[{"filter":"datum.p=='d'&&isValid(datum.lo)"}],"mark":{"type":"tick","orient":"horizontal","color":"#ee5a64","size":9,"thickness":1.5,"opacity":1},"encoding":{"y":{"field":"lo","type":"quantitative"}}},
{"data":{"name":"pts"},"transform":[{"filter":"datum.p=='d'&&isValid(datum.lo)"}],"mark":{"type":"tick","orient":"horizontal","color":"#ee5a64","size":9,"thickness":1.5,"opacity":1},"encoding":{"y":{"field":"hi","type":"quantitative"}}},
{"data":{"name":"pts"},"transform":[{"filter":"datum.p=='d'&&isValid(datum.lo)"}],"mark":{"type":"tick","orient":"horizontal","color":"#ee5a64","size":9,"thickness":2.2,"opacity":1},"encoding":{}},
{"data":{"name":"txt"},"transform":[{"filter":"datum.p=='d'&&datum.k=='pre'"}],"mark":{"type":"text","align":"left","baseline":"middle","fontSize":7,"color":"#000000"},"encoding":{"text":{"field":"txt"}}},
{"data":{"name":"txt"},"transform":[{"filter":"datum.p=='d'&&datum.k=='nutd'"}],"mark":{"type":"text","align":"center","baseline":"middle","fontSize":6,"color":"#d8d8d8","angle":4},"encoding":{"text":{"field":"txt"}}},
{"data":{"name":"txt"},"transform":[{"filter":"datum.p=='d'&&datum.k=='nonutd'"}],"mark":{"type":"text","align":"center","baseline":"middle","fontSize":6,"color":"#d8d8d8","angle":19},"encoding":{"text":{"field":"txt"}}},
{"data":{"name":"txt"},"transform":[{"filter":"datum.p=='d'&&datum.k=='lab'"}],"mark":{"type":"text","align":"center","baseline":"middle","fontSize":15,"color":"#000000"},"encoding":{"text":{"field":"txt"}}}
]},
{"width":180,"height":90,
"encoding":{"x":{"field":"t","type":"quantitative","scale":{"domain":[-6.4,0,8.1],"range":[0,69,180],"nice":false,"zero":false},"axis":{"values":[-6.25,-5,-3.75,-2.5,-1.25,0,1,2,3,4,5,6,7,8],"labelExpr":"indexof([-5,0,7],datum.value)>=0?datum.label:''","labelOverlap":false,"labelFlush":false,"title":"Incubation time (d)","titleFontSize":13,"titlePadding":1}},
"y":{"field":"v","type":"quantitative","scale":{"domain":[0,28],"nice":false,"zero":false},"axis":{"title":"Chl-a (μg L⁻¹)","values":[0,10,20]}}},
"layer":[
{"data":{"name":"bg"},"transform":[{"filter":"datum.p=='h'"}],"mark":{"type":"rect","fill":"#231f20","strokeWidth":0},"encoding":{"x2":{"field":"t2"},"y2":{"field":"v2"}}},
{"data":{"name":"pts"},"transform":[{"filter":"datum.p=='h'"}],"mark":{"type":"line","color":"#6f6f6f","strokeWidth":3.8},"encoding":{"detail":{"field":"s"}}},
{"data":{"name":"pts"},"transform":[{"filter":"datum.p=='h'&&datum.s=='d5'"}],"mark":{"type":"line","color":"#d0d0d0","strokeWidth":2.3},"encoding":{}},
{"data":{"name":"pts"},"transform":[{"filter":"datum.p=='h'&&datum.s=='d40'"}],"mark":{"type":"line","color":"#f7f7f7","strokeWidth":2.3},"encoding":{}},
{"data":{"name":"pts"},"transform":[{"filter":"datum.p=='h'&&isValid(datum.lo)"}],"mark":{"type":"rule","color":"#ee5a64","strokeWidth":1.5},"encoding":{"y":{"field":"lo","type":"quantitative"},"y2":{"field":"hi"}}},
{"data":{"name":"pts"},"transform":[{"filter":"datum.p=='h'&&isValid(datum.lo)"}],"mark":{"type":"tick","orient":"horizontal","color":"#ee5a64","size":9,"thickness":1.5,"opacity":1},"encoding":{"y":{"field":"lo","type":"quantitative"}}},
{"data":{"name":"pts"},"transform":[{"filter":"datum.p=='h'&&isValid(datum.lo)"}],"mark":{"type":"tick","orient":"horizontal","color":"#ee5a64","size":9,"thickness":1.5,"opacity":1},"encoding":{"y":{"field":"hi","type":"quantitative"}}},
{"data":{"name":"pts"},"transform":[{"filter":"datum.p=='h'&&isValid(datum.lo)"}],"mark":{"type":"tick","orient":"horizontal","color":"#ee5a64","size":9,"thickness":2.2,"opacity":1},"encoding":{}},
{"data":{"name":"txt"},"transform":[{"filter":"datum.p=='h'&&datum.k=='depth'"}],"mark":{"type":"text","align":"center","baseline":"middle","fontSize":6.6,"color":"#ffffff"},"encoding":{"text":{"field":"txt"}}},
{"data":{"name":"txt"},"transform":[{"filter":"datum.p=='h'&&datum.k=='lab'"}],"mark":{"type":"text","align":"center","baseline":"middle","fontSize":15,"color":"#000000"},"encoding":{"text":{"field":"txt"}}}
]}
],
"config":{"font":"Liberation Sans","view":{"stroke":"#000000","strokeWidth":1},"axis":{"grid":false,"domainColor":"#000000","tickColor":"#000000","labelColor":"#000000","titleColor":"#000000","labelFontSize":10.5,"titleFontSize":11.5,"titleFontWeight":"normal","tickSize":4,"labelPadding":1,"titlePadding":8},"title":{"fontWeight":"normal","color":"#000000","subtitleColor":"#000000","subtitleFont":"Liberation Sans"},"text":{"font":"Liberation Sans"}}
}
